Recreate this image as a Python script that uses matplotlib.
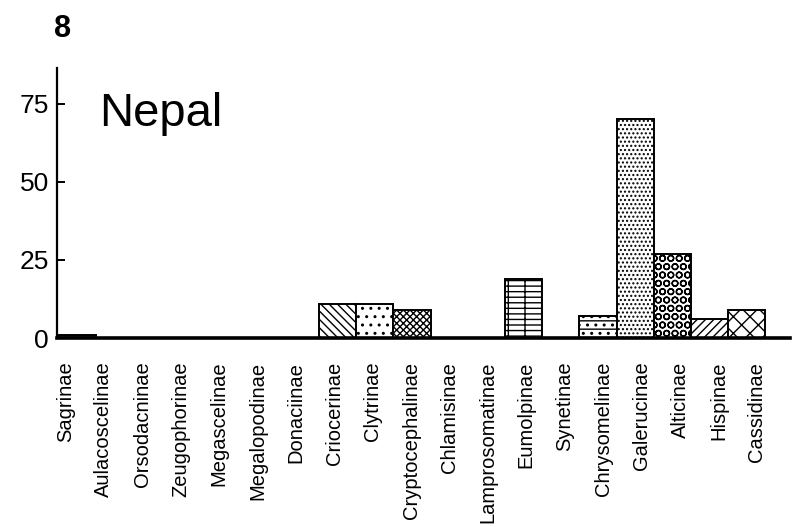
import numpy as np
import matplotlib as mpl
import matplotlib.pyplot as plt

mpl.use('Agg')

plt.rcParams['font.family'] = ['Liberation Sans', 'DejaVu Sans']
plt.rcParams['hatch.linewidth'] = 1.0

# subfamilies and species counts for Nepal
subfamilies = ['Sagrinae', 'Aulacoscelinae', 'Orsodacninae', 'Zeugophorinae',
               'Megascelinae', 'Megalopodinae', 'Donaciinae', 'Criocerinae',
               'Clytrinae', 'Cryptocephalinae', 'Chlamisinae', 'Lamprosomatinae',
               'Eumolpinae', 'Synetinae', 'Chrysomelinae', 'Galerucinae',
               'Alticinae', 'Hispinae', 'Cassidinae']
counts = [1, 0, 0, 0, 0, 0, 0, 11, 11, 9, 0, 0, 19, 0, 7, 70, 27, 6, 9]
yticks = [0, 25, 50, 75]

# fill patterns, one per bar
hatches = ['---', '', '', '', '', '', '', '\\\\\\\\', '..', 'xxxxx', '', '',
           '---|', '', '--..', '....', 'OO', '////', 'xx']

fig = plt.figure(figsize=(7.93, 5.27), dpi=100)
ax = fig.add_axes([0.072, 0.3586, 0.924, 0.5124])

x = np.arange(len(subfamilies))
for xi, c, h in zip(x, counts, hatches):
    if c > 0:
        ax.bar(xi, c, width=1.0, color='white', edgecolor='black',
               linewidth=1.4, hatch=h)

ax.set_xlim(-0.54, 19.16)
ax.set_ylim(0, 86.5)

ax.spines['top'].set_visible(False)
ax.spines['right'].set_visible(False)
ax.spines['left'].set_linewidth(1.6)
ax.spines['bottom'].set_linewidth(2.6)

ax.set_yticks(yticks)
ax.set_yticklabels([str(t) for t in yticks], fontsize=19)
ax.tick_params(axis='y', direction='in', length=6, width=1.4, pad=6)

# labels in the original are spaced a little wider than the bars
ax.set_xticks(x * 1.033 - 0.32)
ax.set_xticklabels(subfamilies, rotation=90, fontsize=14.5, va='top', ha='center')
ax.tick_params(axis='x', length=0, pad=17)

ax.text(0.057, 0.83, 'Nepal', transform=ax.transAxes, fontsize=34,
        ha='left', va='center')
fig.text(0.068, 0.945, '8', fontsize=22, fontweight='bold', ha='left', va='center')

fig.savefig('out.png', dpi=100)
